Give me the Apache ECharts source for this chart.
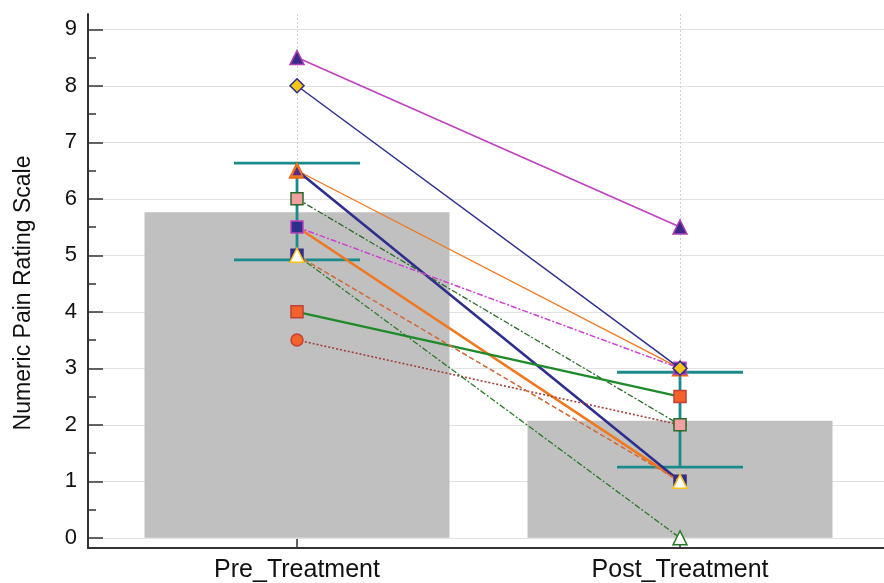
<!DOCTYPE html>
<html>
<head>
<meta charset="utf-8">
<script src="https://cdn.jsdelivr.net/npm/echarts@6/dist/echarts.min.js"></script>
<style>
html, body { margin: 0; padding: 0; background: #fff; }
#chart { width: 884px; height: 583px; }
</style>
</head>
<body>
<div id="chart"></div>
<script>
const categories = ['Pre_Treatment', 'Post_Treatment'];
const yTicks = [0, 1, 2, 3, 4, 5, 6, 7, 8, 9];
const yMinorTicks = [0.5, 1.5, 2.5, 3.5, 4.5, 5.5, 6.5, 7.5, 8.5];

// group means with error bar ends
const means = [5.76, 2.07];
const errLow = [4.92, 1.25];
const errHigh = [6.63, 2.93];

// one entry per subject: [pre, post]
const subjectNames = ['A', 'B', 'C', 'D', 'E', 'F', 'G', 'H', 'I', 'J', 'K', 'L'];
const preValues  = [5.5, 6.5, 6.5, 3.5, 6, 5.5, 8, 8.5, 4, 5, 5, 5];
const postValues = [1,   3,   1,   2,   2, 3,   3, 5.5, 2.5, 0, 1, 1];

// look of each subject line (same order as above)
const looks = [
  { color: '#f07820', width: 2.6, dash: 'solid', symbol: 'circle', size: 11, fill: '#f07820', border: '#f07820' },
  { color: '#f07820', width: 1.3, dash: 'solid', symbol: 'triangle', size: 15, fill: '#f07820', border: '#e06a1a' },
  { color: '#2e2e8c', width: 2.6, dash: 'solid', symbol: 'triangle', size: 11, fill: '#5a2a8a', border: '#f07820' },
  { color: '#a0403a', width: 1.6, dash: [2, 2], symbol: 'circle', size: 12, fill: '#f2622a', border: '#c0403a' },
  { color: '#2a6a2a', width: 1.3, dash: [6, 2, 2, 2], symbol: 'rect', size: 12, fill: '#f2a0a0', border: '#2a6a2a' },
  { color: '#d040d0', width: 1.5, dash: [6, 2, 2, 2], symbol: 'rect', size: 12, fill: '#2e2e8c', border: '#c040c0' },
  { color: '#2e2e8c', width: 1.5, dash: 'solid', symbol: 'diamond', size: 14, fill: '#f5c518', border: '#2e2e8c' },
  { color: '#c040c0', width: 1.6, dash: 'solid', symbol: 'triangle', size: 14, fill: '#3a2a8a', border: '#b040b0' },
  { color: '#1e8a2a', width: 2.3, dash: 'solid', symbol: 'rect', size: 12, fill: '#f2622a', border: '#c0403a' },
  { color: '#2a7a2a', width: 1.3, dash: [6, 2, 2, 2], symbol: 'triangle', size: 14, fill: '#ffffff', border: '#2a7a2a' },
  { color: '#d07040', width: 1.3, dash: [5, 3], symbol: 'rect', size: 12, fill: '#2e2e8c', border: '#3a2a8a' },
  { color: '#d07040', width: 1.3, dash: [5, 3], symbol: 'triangle', size: 14, fill: '#ffffff', border: '#f5c518' }
];

const chart = echarts.init(document.getElementById('chart'));

const subjectSeries = subjectNames.map((name, i) => ({
  name: name,
  type: 'line',
  data: [[0, preValues[i]], [1, postValues[i]]],
  symbol: looks[i].symbol,
  symbolSize: looks[i].size,
  itemStyle: { color: looks[i].fill, borderColor: looks[i].border, borderWidth: 1.5 },
  lineStyle: { color: looks[i].color, width: looks[i].width, type: looks[i].dash },
  z: 10 + i
}));

const option = {
  animation: false,
  grid: { left: 88, right: 0, top: 14, bottom: 35 },
  xAxis: {
    type: 'value',
    min: -0.5457,
    max: 1.5326,
    axisLine: { onZero: false, lineStyle: { color: '#333', width: 2 } },
    axisTick: { customValues: [0, 1], inside: true, length: 9, lineStyle: { color: '#333', width: 1.5 } },
    axisLabel: {
      customValues: [0, 1],
      formatter: v => categories[Math.round(v)],
      fontFamily: 'Liberation Sans', fontSize: 25, color: '#111', margin: 10
    },
    splitLine: { show: true, lineStyle: { color: '#d0d0d0', type: [2, 2], width: 1 } }
  },
  yAxis: [{
    type: 'value',
    min: -0.18,
    max: 9.27,
    name: 'Numeric Pain Rating Scale',
    nameLocation: 'middle',
    nameGap: 53,
    nameTextStyle: { fontFamily: 'Liberation Sans', fontSize: 23, color: '#111', padding: [0, 24, 0, 0] },
    axisLine: { show: true, onZero: false, lineStyle: { color: '#333', width: 2 } },
    axisTick: { customValues: yTicks, inside: true, length: 15, lineStyle: { color: '#333', width: 1.5 } },
    axisLabel: { customValues: yTicks, fontFamily: 'Liberation Sans', fontSize: 22, color: '#111', margin: 11 },
    splitLine: { show: true, lineStyle: { color: '#e2e2e2', width: 1 } }
  }, {
    type: 'value',
    min: -0.18,
    max: 9.27,
    position: 'left',
    axisLine: { show: false, onZero: false },
    axisTick: { show: true, customValues: yMinorTicks, inside: true, length: 8, lineStyle: { color: '#333', width: 1.5 } },
    axisLabel: { show: false },
    splitLine: { show: false }
  }],
  series: [{
    type: 'bar',
    data: [[0, means[0]], [1, means[1]]],
    barWidth: 305,
    itemStyle: { color: '#c0c0c0' },
    z: 1
  }, {
    type: 'custom',
    data: [[0, errLow[0], errHigh[0]], [1, errLow[1], errHigh[1]]],
    renderItem: function (params, api) {
      const lo = api.coord([api.value(0), api.value(1)]);
      const hi = api.coord([api.value(0), api.value(2)]);
      const half = 63;
      const style = { stroke: '#1b8a8a', lineWidth: 2.8 };
      return {
        type: 'group',
        children: [
          { type: 'line', shape: { x1: lo[0], y1: lo[1], x2: hi[0], y2: hi[1] }, style: style },
          { type: 'line', shape: { x1: lo[0] - half, y1: lo[1], x2: lo[0] + half, y2: lo[1] }, style: style },
          { type: 'line', shape: { x1: hi[0] - half, y1: hi[1], x2: hi[0] + half, y2: hi[1] }, style: style }
        ]
      };
    },
    z: 5
  }].concat(subjectSeries)
};

chart.setOption(option);
</script>
</body>
</html>
